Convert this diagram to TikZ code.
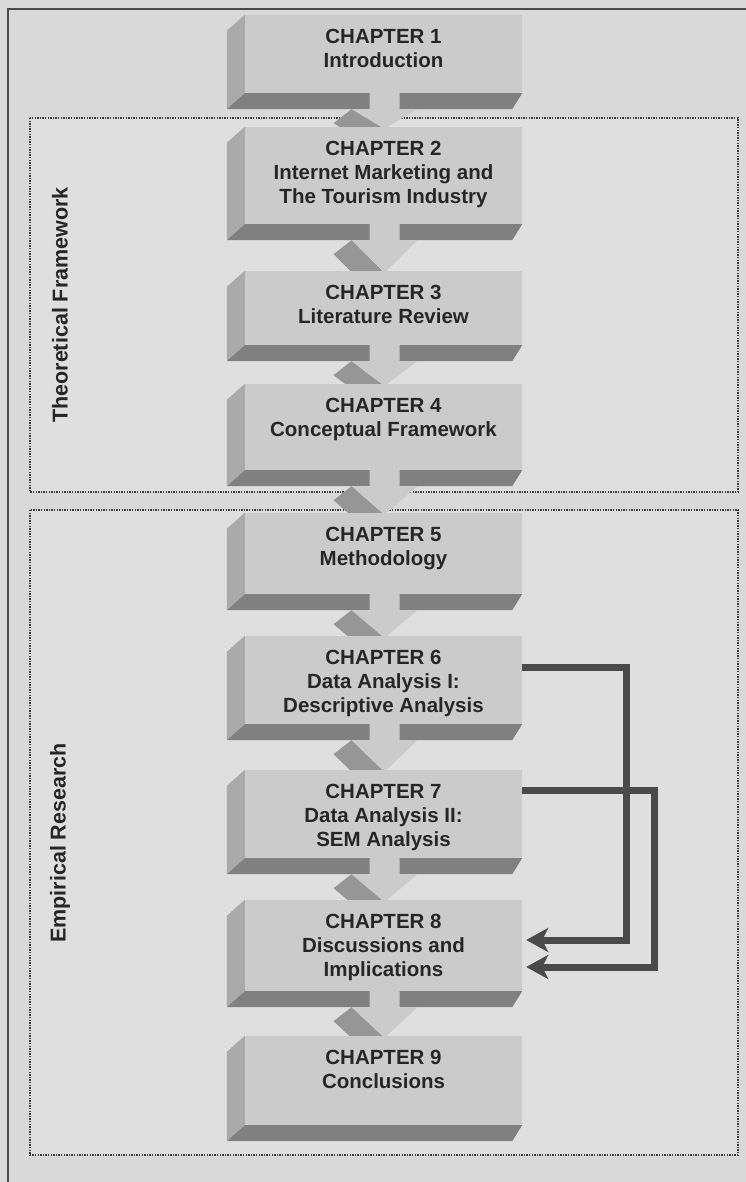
\documentclass[tikz,border=0pt]{standalone}
\usepackage{fontspec}
\setmainfont{Liberation Sans}
\usetikzlibrary{arrows.meta,calc,backgrounds,positioning}
\definecolor{PageGray}{RGB}{217,217,217}
\definecolor{ZoneFill}{RGB}{223,223,223}
\definecolor{ZoneDot}{RGB}{60,60,60}
\definecolor{FaceFront}{RGB}{203,203,203}
\definecolor{FaceSide}{RGB}{170,170,170}
\definecolor{FaceBottom}{RGB}{128,128,128}
\definecolor{ArrowSide}{RGB}{150,150,150}
\definecolor{LinkDark}{RGB}{74,74,74}
\definecolor{TextDark}{RGB}{38,38,38}

\begin{document}
\begin{tikzpicture}[x=1pt,y=-1pt,
    chapter/.style={rectangle,fill=FaceFront,minimum width=277pt,inner sep=0pt},
    chaptext/.style={anchor=north,yshift=-14pt,inner sep=0pt,align=center,
                     font=\bfseries\fontsize{20.5}{24}\selectfont,text=TextDark},
    part/.style={rotate=90,font=\bfseries\fontsize{21.5}{26}\selectfont,text=TextDark},
    zone/.style={draw=ZoneDot,fill=ZoneFill,line width=1.4pt,dash pattern=on 1.4pt off 1.2pt},
    feedback/.style={draw=LinkDark,line width=7pt,shorten >=4pt,
                     -{Stealth[length=22pt,width=24pt,inset=6pt]}}
  ]
  \useasboundingbox (0,0) rectangle (746,1182);

  \node[chapter,minimum height=78pt,label={[chaptext]north:{CHAPTER 1\\Introduction}}] (ch1) at (383.5,54) {};
  \node[chapter,minimum height=97pt,label={[chaptext]north:{CHAPTER 2\\Internet Marketing and\\The Tourism Industry}}] (ch2) at (383.5,175.5) {};
  \node[chapter,minimum height=74pt,label={[chaptext]north:{CHAPTER 3\\Literature Review}}] (ch3) at (383.5,308) {};
  \node[chapter,minimum height=86pt,label={[chaptext]north:{CHAPTER 4\\Conceptual Framework}}] (ch4) at (383.5,427) {};
  \node[chapter,minimum height=81pt,label={[chaptext]north:{CHAPTER 5\\Methodology}}] (ch5) at (383.5,553.5) {};
  \node[chapter,minimum height=88pt,label={[chaptext]north:{CHAPTER 6\\Data Analysis I:\\Descriptive Analysis}}] (ch6) at (383.5,680) {};
  \node[chapter,minimum height=88pt,label={[chaptext]north:{CHAPTER 7\\Data Analysis II:\\SEM Analysis}}] (ch7) at (383.5,814) {};
  \node[chapter,minimum height=91pt,label={[chaptext]north:{CHAPTER 8\\Discussions and\\Implications}}] (ch8) at (383.5,945.5) {};
  \node[chapter,minimum height=89pt,label={[chaptext]north:{CHAPTER 9\\Conclusions}}] (ch9) at (383.5,1080.5) {};

  \node[part] (theory) at (60,305) {Theoretical Framework};
  \node[part] (empiric) at (60,843) {Empirical Research};

  \draw[feedback] ([yshift=13pt]ch6.east) -- ++(104,0) |- ([yshift=5.5pt]ch8.east);
  \draw[feedback] ([yshift=24pt]ch7.east) -- ++(132,0) |- ([yshift=-21.5pt]ch8.east);

  \draw[LinkDark,line width=2.2pt] (8,1182) -- (8,9) -- (746,9);

  \begin{scope}[on background layer]
    \fill[PageGray] (0,0) rectangle (746,1182);
    \draw[zone] (30,118) rectangle (738,492);
    \draw[zone] (30,510) rectangle (738,1155);
    % block sides
    \foreach \n in {1,...,9}{
      \fill[FaceSide] (ch\n.north west) -- ++(-18,16) -- ($(ch\n.south west)+(-18,16)$)
        -- (ch\n.south west) -- cycle;
      \fill[FaceBottom] (ch\n.south west) -- (ch\n.south east) -- ++(-10,16)
        -- ($(ch\n.south west)+(-18,16)$) -- cycle;
    }
    % block arrows
    \foreach \a/\b in {1/2,2/3,3/4,4/5,5/6,6/7,7/8,8/9}{
      \coordinate (s) at ($(ch\a.south)+(1,-2)$);
      \coordinate (h) at ($(ch\a.south)+(1,16)$);
      \coordinate (t) at ($(ch\b.north)+(1,2)$);
      \fill[FaceBottom] ($(s)+(-15,0)$) -- ($(s)+(-33,14)$) -- ($(h)+(-33,14)$)
        -- ($(h)+(-15,0)$) -- cycle;
      \fill[ArrowSide] ($(h)+(-33,0)$) -- ($(h)+(-51,14)$)
        -- ($(t)+(-18,14)$) -- (t) -- cycle;
      \fill[FaceFront] ($(s)+(-15,0)$) -- ($(h)+(-15,0)$) -- ($(h)+(-33,0)$) -- (t)
        -- ($(h)+(33,0)$) -- ($(h)+(15,0)$) -- ($(s)+(15,0)$) -- cycle;
    }
  \end{scope}
\end{tikzpicture}
\end{document}
